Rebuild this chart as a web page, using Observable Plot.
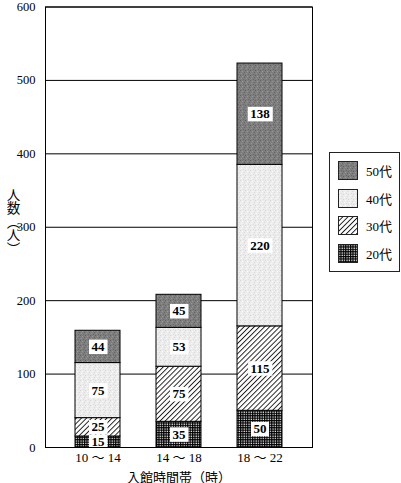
<!DOCTYPE html>
<html><head><meta charset="utf-8">
<script src="https://cdn.jsdelivr.net/npm/d3@7"></script>
<script src="https://cdn.jsdelivr.net/npm/@observablehq/plot@0.6"></script>
<style>
body{margin:0;background:#fff;}
#wrap{position:relative;width:401px;height:483px;overflow:hidden;font-family:"Liberation Serif","Noto Sans CJK JP",serif;}
#ylab{position:absolute;left:6px;top:188px;writing-mode:vertical-rl;font-family:"Noto Sans CJK JP";font-size:13.5px;line-height:1;color:#000;}
#legend{position:absolute;left:329px;top:152px;width:71px;height:120px;border:1px solid #222;box-sizing:border-box;background:#fff;}
.item{position:absolute;left:8px;display:flex;align-items:center;font-size:13px;color:#000;}
.item svg{margin-right:8px;}
</style></head><body><div id="wrap"><div id="ylab">人数（人）</div><div id="legend"></div></div>
<script>
const categories = ["10 〜 14", "14 〜 18", "18 〜 22"];
const ageGroups = ["20代", "30代", "40代", "50代"];
const count20 = [15, 35, 50];
const count30 = [25, 75, 115];
const count40 = [75, 53, 220];
const count50 = [44, 45, 138];
const yTicks = [0, 100, 200, 300, 400, 500, 600];
const patternIds = ["p20", "p30", "p40", "p50"];
const legendOrder = ["50代", "40代", "30代", "20代"];

const series = [count20, count30, count40, count50];
const rows = [];
categories.forEach((c, i) => ageGroups.forEach((a, j) => rows.push({time: c, age: a, count: series[j][i]})));

const chart = Plot.plot({
  width: 401, height: 483,
  marginLeft: 45, marginRight: 89, marginTop: 6.5, marginBottom: 36,
  style: {fontFamily: '"Liberation Serif","Noto Sans CJK JP",serif', fontSize: "13px", color: "#000", background: "white"},
  x: {domain: categories, paddingInner: 0.44, paddingOuter: 0.35},
  y: {domain: [0, 600]},
  color: {domain: ageGroups, range: patternIds.map(id => `url(#${id})`)},
  marks: [
    Plot.gridY(yTicks, {stroke: "#000", strokeOpacity: 1, strokeWidth: 1}),
    Plot.barY(rows, {x: "time", y: "count", fill: "age", stroke: "#000", strokeWidth: 1}),
    Plot.text(rows, Plot.stackY({x: "time", y: "count", text: "count", fill: "#000", fontSize: 13, fontWeight: "bold"})),
    Plot.frame({stroke: "#000", strokeWidth: 1}),
    Plot.axisY(yTicks, {tickSize: 0, tickPadding: 10, fontSize: 12.5, label: null}),
    Plot.axisX({tickSize: 0, tickPadding: 5, fontSize: 13, label: "入館時間帯（時）", labelAnchor: "center", labelOffset: 34})
  ]
});

// patterns
const svg = d3.select(chart.tagName.toLowerCase() === "svg" ? chart : chart.querySelector("svg"));
const defs = svg.insert("defs", ":first-child");
// 50代: dark speckled gray
const p50 = defs.append("pattern").attr("id", "p50").attr("patternUnits", "userSpaceOnUse").attr("width", 5).attr("height", 5);
p50.append("rect").attr("width", 5).attr("height", 5).attr("fill", "#7e7e7e");
[[0,0,"#606060"],[2,1,"#989898"],[4,2,"#656565"],[1,3,"#939393"],[3,4,"#686868"]].forEach(([x,y,c]) => p50.append("rect").attr("x", x).attr("y", y).attr("width", 1).attr("height", 1).attr("fill", c));
// 40代: light speckled gray
const p40 = defs.append("pattern").attr("id", "p40").attr("patternUnits", "userSpaceOnUse").attr("width", 5).attr("height", 5);
p40.append("rect").attr("width", 5).attr("height", 5).attr("fill", "#ececec");
[[0,0,"#d6d6d6"],[2,1,"#fafafa"],[4,2,"#d9d9d9"],[1,3,"#f8f8f8"],[3,4,"#dedede"]].forEach(([x,y,c]) => p40.append("rect").attr("x", x).attr("y", y).attr("width", 1).attr("height", 1).attr("fill", c));
// 30代: diagonal hatch
const p30 = defs.append("pattern").attr("id", "p30").attr("patternUnits", "userSpaceOnUse").attr("width", 3.6).attr("height", 3.6).attr("patternTransform", "rotate(45)");
p30.append("rect").attr("width", 3.6).attr("height", 3.6).attr("fill", "#fff");
p30.append("line").attr("x1", 0.5).attr("y1", 0).attr("x2", 0.5).attr("y2", 3.6).attr("stroke", "#111").attr("stroke-width", 0.9);
// 20代: dense grid
const p20 = defs.append("pattern").attr("id", "p20").attr("patternUnits", "userSpaceOnUse").attr("width", 2.4).attr("height", 2.4);
p20.append("rect").attr("width", 2.4).attr("height", 2.4).attr("fill", "#fff");
p20.append("path").attr("d", "M0,0.6H2.4M0.6,0V2.4").attr("stroke", "#000").attr("stroke-width", 1.2);

document.getElementById("wrap").prepend(chart);
d3.select(chart).style("position", "absolute").style("left", "0px").style("top", "0px");

// white boxes behind value labels
svg.selectAll('g[aria-label="text"] text').each(function() {
  const b = this.getBBox();
  const r = document.createElementNS("http://www.w3.org/2000/svg", "rect");
  r.setAttribute("x", b.x - 2.5);
  r.setAttribute("y", b.y + 0.5);
  r.setAttribute("width", b.width + 5);
  r.setAttribute("height", b.height - 0.5);
  r.setAttribute("fill", "#fff");
  if (this.getAttribute("transform")) r.setAttribute("transform", this.getAttribute("transform"));
  this.parentNode.insertBefore(r, this);
});

// legend
const legend = document.getElementById("legend");
legendOrder.forEach((a, k) => {
  const item = document.createElement("div");
  item.className = "item";
  item.style.top = (8 + k * 27.5) + "px";
  const id = patternIds[ageGroups.indexOf(a)];
  item.innerHTML = `<svg width="20" height="19"><rect x="0.5" y="0.5" width="19" height="18" fill="url(#${id})" stroke="#222"/></svg><span>${a}</span>`;
  legend.append(item);
});
</script>
</body></html>
